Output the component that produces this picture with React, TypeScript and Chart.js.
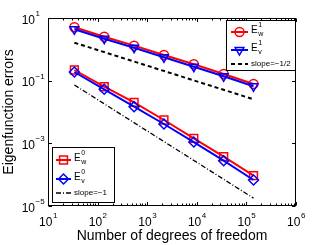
import React, { useEffect, useRef } from "react";
import { Chart, registerables } from "chart.js";
import { drawPoint } from "chart.js/helpers";

Chart.register(...registerables);

const dof = [34, 136, 544, 2176, 8704, 34816, 139264];
const errW1 = [5.05, 2.53, 1.31, 0.66, 0.333, 0.163, 0.078];
const errV1 = [4.35, 2.18, 1.13, 0.557, 0.279, 0.138, 0.066];
const errW0 = [0.219, 0.064, 0.0204, 0.00555, 0.00144, 0.000374, 0.0000933];
const errV0 = [0.189, 0.053, 0.0148, 0.00414, 0.0011, 0.000279, 0.0000676];
const slopeX = [34, 139264];
const slopeHalfY = [1.63, 0.0255];
const slopeOneY = [0.073, 0.0000178];

const xTickExps = [1, 2, 3, 4, 5, 6];
const yTickExps = [1, -1, -3, -5];
const xTitle = "Number of degrees of freedom";
const yTitle = "Eigenfunction errors";

const RED = "#ff0000";
const BLUE = "#0000ff";
const FONT = "'Liberation Sans', Arial, Helvetica, sans-serif";

const pts = (xs: number[], ys: number[]) => xs.map((x, i) => ({ x, y: ys[i] }));
const expText = (e: number) => (e < 0 ? "\u2212" + Math.abs(e) : String(e));

type LegendItem = { label: string; sup: string; sub: string; ds: number };

function drawLegendBox(ctx: CanvasRenderingContext2D, chart: any, box: [number, number, number, number], items: LegendItem[], slopeLabel: string, slopeDs: number, rowsY: number[], sampleX: [number, number]) {
  const [x0, y0, x1, y1] = box;
  ctx.save();
  ctx.fillStyle = "#ffffff";
  ctx.fillRect(x0, y0, x1 - x0, y1 - y0);
  ctx.strokeStyle = "#000";
  ctx.lineWidth = 1;
  ctx.strokeRect(x0 + 0.5, y0 + 0.5, x1 - x0 - 1, y1 - y0 - 1);
  const textX = sampleX[1] + 3;
  items.forEach((it, i) => {
    const ds = chart.data.datasets[it.ds];
    const y = rowsY[i];
    ctx.strokeStyle = ds.borderColor;
    ctx.lineWidth = ds.borderWidth;
    ctx.setLineDash([]);
    ctx.beginPath();
    ctx.moveTo(sampleX[0], y);
    ctx.lineTo(sampleX[1], y);
    ctx.stroke();
    ctx.fillStyle = "rgba(0,0,0,0)";
    ctx.lineWidth = ds.pointBorderWidth;
    drawPoint(ctx, { pointStyle: ds.pointStyle, rotation: ds.pointRotation || 0, radius: ds.pointRadius, borderWidth: ds.pointBorderWidth }, (sampleX[0] + sampleX[1]) / 2, y);
    ctx.fillStyle = "#000";
    ctx.textBaseline = "alphabetic";
    ctx.textAlign = "left";
    ctx.font = `10px ${FONT}`;
    ctx.fillText(it.label, textX, y + 1);
    const w = ctx.measureText(it.label).width;
    ctx.font = `7px ${FONT}`;
    ctx.fillText(it.sup, textX + w + 0.5, y - 5);
    ctx.fillText(it.sub, textX + w + 0.5, y + 4);
  });
  const sds = chart.data.datasets[slopeDs];
  const sy = rowsY[items.length];
  ctx.strokeStyle = sds.borderColor;
  ctx.lineWidth = sds.borderWidth;
  ctx.setLineDash(sds.borderDash);
  ctx.beginPath();
  ctx.moveTo(sampleX[0], sy);
  ctx.lineTo(sampleX[1], sy);
  ctx.stroke();
  ctx.setLineDash([]);
  ctx.fillStyle = "#000";
  ctx.font = `8px ${FONT}`;
  ctx.textBaseline = "middle";
  ctx.fillText(slopeLabel, textX, sy);
  ctx.restore();
}

const decorPlugin = {
  id: "decor",
  afterDatasetsDraw(chart: any) {
    const ctx: CanvasRenderingContext2D = chart.ctx;
    const { left, right, top, bottom } = chart.chartArea;
    const xs = chart.scales.x;
    const ys = chart.scales.y;
    ctx.save();
    // frame
    ctx.strokeStyle = "#000";
    ctx.lineWidth = 1;
    const L = Math.round(left) + 0.5, R = Math.round(right) - 0.5, T = Math.round(top) + 0.5, B = Math.round(bottom) - 0.5;
    ctx.strokeRect(L, T, R - L, B - T);
    // x ticks (inside, top and bottom)
    ctx.beginPath();
    for (const d of xTickExps) {
      for (let m = 1; m <= 9; m++) {
        if (d === xTickExps[xTickExps.length - 1] && m > 1) break;
        const px = Math.round(xs.getPixelForValue(m * Math.pow(10, d))) + 0.5;
        const len = m === 1 ? 3.5 : 2;
        ctx.moveTo(px, B);
        ctx.lineTo(px, B - len);
        ctx.moveTo(px, T);
        ctx.lineTo(px, T + len);
      }
    }
    for (const e of yTickExps) {
      const py = Math.round(ys.getPixelForValue(Math.pow(10, e))) + 0.5;
      ctx.moveTo(L, py);
      ctx.lineTo(L + 3.5, py);
      ctx.moveTo(R, py);
      ctx.lineTo(R - 3.5, py);
    }
    ctx.stroke();

    // tick labels
    ctx.fillStyle = "#000";
    ctx.textBaseline = "alphabetic";
    for (const e of xTickExps) {
      const px = xs.getPixelForValue(Math.pow(10, e));
      ctx.font = `12px ${FONT}`;
      const wb = ctx.measureText("10").width;
      ctx.font = `8px ${FONT}`;
      const we = ctx.measureText(expText(e)).width;
      const start = px - (wb + we) / 2;
      ctx.font = `12px ${FONT}`;
      ctx.textAlign = "left";
      ctx.fillText("10", start, bottom + 20);
      ctx.font = `8px ${FONT}`;
      ctx.fillText(expText(e), start + wb + 0.5, bottom + 12);
    }
    for (const e of yTickExps) {
      const py = ys.getPixelForValue(Math.pow(10, e));
      ctx.font = `12px ${FONT}`;
      ctx.textAlign = "right";
      ctx.fillText("10", left - 13, py + 5.5);
      ctx.font = `8px ${FONT}`;
      ctx.textAlign = "left";
      ctx.fillText(expText(e), left - 12.5, py - 2);
    }
    // titles
    ctx.font = `14px ${FONT}`;
    ctx.textAlign = "center";
    ctx.fillText(xTitle, (left + right) / 2, bottom + 34);
    ctx.save();
    ctx.translate(13, (top + bottom) / 2);
    ctx.rotate(-Math.PI / 2);
    ctx.fillText(yTitle, 0, 0);
    ctx.restore();

    // legends
    drawLegendBox(ctx, chart, [226, 20, 296, 71],
      [{ label: "E", sup: "1", sub: "w", ds: 0 }, { label: "E", sup: "1", sub: "v", ds: 1 }],
      "slope=\u22121/2", 4, [32, 50, 64], [231, 248]);
    drawLegendBox(ctx, chart, [52, 147, 115, 203],
      [{ label: "E", sup: "0", sub: "w", ds: 2 }, { label: "E", sup: "0", sub: "v", ds: 3 }],
      "slope=\u22121", 5, [160, 179, 193], [56, 71]);
    ctx.restore();
  },
};

export default function App() {
  const ref = useRef<HTMLCanvasElement | null>(null);
  useEffect(() => {
    document.body.style.margin = "0";
    if (!ref.current) return;
    const series = (data: number[], color: string, style: string, radius: number, rotation: number, order: number) => ({
      data: pts(dof, data),
      borderColor: color,
      backgroundColor: "rgba(0,0,0,0)",
      borderWidth: 2,
      pointStyle: style,
      pointRadius: radius,
      pointRotation: rotation,
      pointBorderWidth: 1.5,
      pointBorderColor: color,
      pointBackgroundColor: "rgba(0,0,0,0)",
      order,
    });
    const chart = new Chart(ref.current, {
      type: "line",
      data: {
        datasets: [
          series(errW1, RED, "circle", 4.5, 0, 3),
          series(errV1, BLUE, "triangle", 5, 180, 1),
          series(errW0, RED, "rect", 5.5, 0, 3),
          series(errV0, BLUE, "rectRot", 5, 0, 1),
          {
            data: pts(slopeX, slopeHalfY),
            borderColor: "#000",
            borderWidth: 2,
            borderDash: [4, 3],
            pointRadius: 0,
            order: 5,
          },
          {
            data: pts(slopeX, slopeOneY),
            borderColor: "#000",
            borderWidth: 1.3,
            borderDash: [5, 2, 1, 2],
            pointRadius: 0,
            order: 5,
          },
        ] as any,
      },
      options: {
        animation: false,
        responsive: false,
        maintainAspectRatio: false,
        layout: { padding: { left: 48, right: 31, top: 18, bottom: 39 } },
        plugins: { legend: { display: false }, tooltip: { enabled: false } },
        scales: {
          x: { type: "logarithmic", min: 10, max: 1e6, display: false },
          y: { type: "logarithmic", min: 1e-5, max: 10, display: false },
        },
      },
      plugins: [decorPlugin],
    });
    return () => chart.destroy();
  }, []);
  return (
    <div style={{ position: "absolute", left: 0, top: 0, width: 327, height: 245, background: "#fff" }}>
      <canvas ref={ref} width={327} height={245} style={{ width: 327, height: 245, display: "block" }} />
    </div>
  );
}
